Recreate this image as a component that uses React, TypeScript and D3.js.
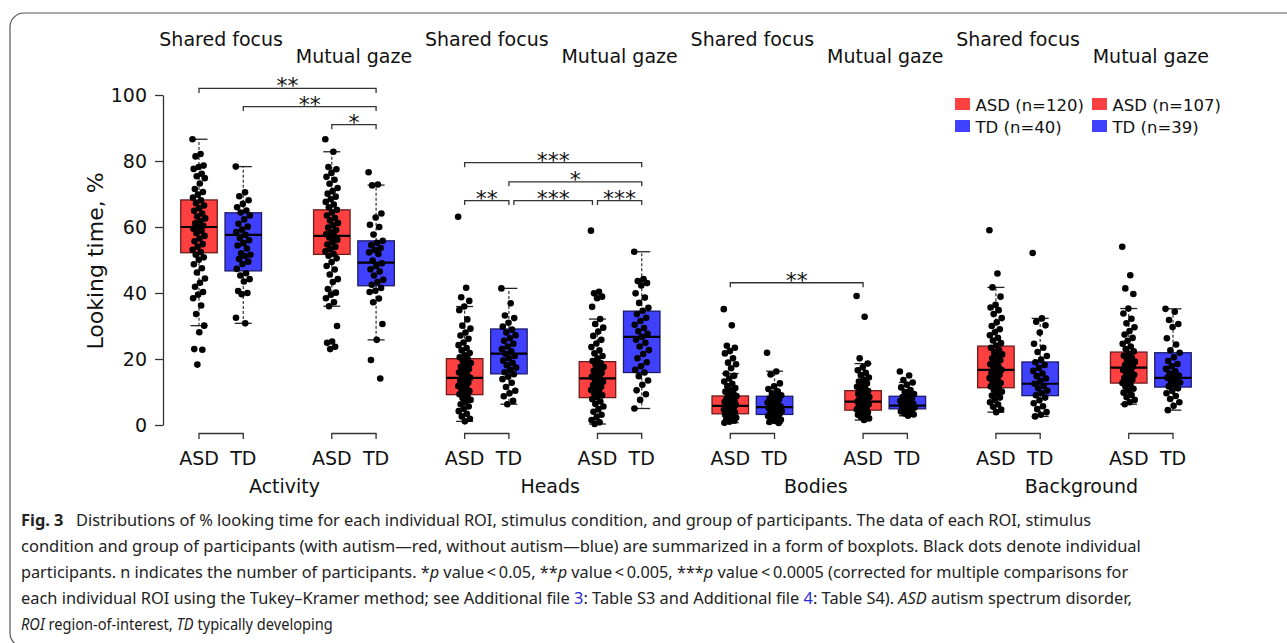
import { useEffect, useRef } from 'react';
import * as d3 from 'd3';

const rois = ['Activity', 'Heads', 'Bodies', 'Background'];
const conditions = ['Shared focus', 'Mutual gaze'];
const groups = ['ASD', 'TD'];
const yTicks = [0, 20, 40, 60, 80, 100];
const legendLabels = [
  ['ASD (n=120)', 'TD (n=40)'],
  ['ASD (n=107)', 'TD (n=39)'],
];

// box order: roi > condition > group
// [whisker low, q1, median, q3, whisker high]
const boxStats = [
  [30.1, 52.2, 60.0, 68.2, 86.6],
  [30.8, 46.7, 57.6, 64.3, 78.3],
  [36.0, 51.7, 57.3, 65.2, 82.8],
  [25.8, 42.2, 49.2, 55.8, 72.7],
  [1.1, 9.2, 14.3, 20.1, 35.9],
  [6.3, 15.5, 21.6, 29.1, 41.4],
  [0.3, 8.3, 14.1, 19.2, 32.1],
  [5.0, 15.9, 26.7, 34.5, 52.5],
  [0.7, 3.4, 5.8, 8.8, 15.6],
  [0.6, 3.2, 5.4, 8.7, 16.3],
  [1.5, 4.5, 7.1, 10.4, 18.6],
  [2.8, 4.9, 5.9, 8.7, 12.9],
  [3.9, 11.3, 16.7, 23.9, 41.7],
  [2.6, 8.9, 12.5, 19.1, 32.3],
  [6.3, 12.7, 17.4, 22.1, 35.3],
  [4.5, 11.5, 14.3, 21.9, 35.2],
];

// individual participants (overlapping dots thinned)
const dots = [
  [86.6, 82.1, 81.4, 78.6, 78.2, 77.6, 76.1, 75.4, 74.8, 73.2, 71.5, 70.6, 69.8, 68.9, 68.1, 67.2, 66.5, 65.7, 64.9, 64.1, 63.2, 62.6, 61.8, 61.1, 60.4, 60.0, 59.5, 58.8, 58.1, 57.3, 56.5, 55.7, 54.8, 54.0, 53.1, 52.4, 51.6, 50.8, 50.1, 48.7, 47.5, 46.2, 44.4, 43.1, 41.9, 40.3, 39.5, 38.4, 36.2, 33.6, 30.1, 28.1, 23.0, 22.8, 18.3],
  [78.3, 70.5, 69.3, 68.1, 67.0, 66.0, 65.0, 64.4, 63.5, 62.3, 61.0, 60.1, 59.2, 58.5, 57.6, 56.7, 56.0, 55.1, 54.4, 53.5, 52.0, 51.6, 51.2, 50.3, 49.5, 48.8, 47.3, 46.0, 45.3, 44.2, 43.5, 40.6, 40.0, 39.6, 32.5, 30.8],
  [86.6, 82.8, 78.2, 77.5, 76.4, 75.2, 74.3, 73.1, 71.8, 70.9, 70.1, 69.2, 68.4, 67.6, 66.8, 66.0, 65.2, 64.4, 63.5, 62.7, 62.0, 61.2, 60.5, 59.8, 59.1, 58.4, 57.8, 57.3, 56.8, 56.1, 55.4, 54.7, 54.0, 53.3, 52.6, 51.9, 51.3, 50.5, 49.4, 48.2, 47.1, 45.6, 44.2, 43.3, 41.2, 40.1, 39.5, 38.4, 37.2, 36.0, 30.0, 25.3, 24.9, 23.7, 23.0],
  [76.6, 72.9, 72.6, 64.1, 62.9, 60.7, 60.0, 57.7, 55.8, 55.2, 54.5, 53.6, 53.0, 52.3, 51.8, 49.8, 49.0, 48.2, 47.2, 46.5, 45.3, 44.0, 43.3, 42.5, 41.5, 40.7, 40.3, 38.3, 37.2, 30.6, 25.8, 19.7, 14.1],
  [63.1, 41.6, 38.7, 37.6, 35.9, 34.8, 32.0, 30.1, 29.2, 28.0, 27.1, 26.1, 25.0, 24.2, 23.3, 22.6, 21.8, 21.1, 20.5, 20.0, 19.4, 18.8, 18.2, 17.6, 17.0, 16.4, 15.9, 15.3, 14.8, 14.3, 13.8, 13.3, 12.8, 12.3, 11.8, 11.3, 10.8, 10.3, 9.8, 9.3, 8.8, 8.2, 7.6, 7.0, 6.3, 5.6, 4.9, 4.2, 3.4, 2.6, 1.9, 1.1],
  [41.4, 36.9, 33.2, 32.4, 31.0, 29.8, 28.9, 28.0, 27.2, 26.3, 25.5, 24.6, 23.8, 23.0, 22.3, 21.6, 20.9, 20.2, 19.5, 18.8, 18.1, 17.4, 16.7, 16.0, 15.4, 14.6, 13.9, 12.8, 11.5, 10.4, 9.6, 8.7, 7.3, 6.3],
  [58.9, 40.4, 39.9, 38.9, 38.4, 35.8, 32.1, 30.6, 29.5, 28.3, 27.0, 25.8, 24.7, 23.6, 22.6, 21.7, 20.9, 20.1, 19.4, 18.8, 18.2, 17.6, 17.0, 16.4, 15.8, 15.2, 14.6, 14.1, 13.6, 13.1, 12.6, 12.1, 11.6, 11.1, 10.6, 10.1, 9.6, 9.0, 8.4, 7.8, 7.1, 6.4, 5.6, 4.8, 4.0, 3.1, 2.3, 1.5, 0.8, 0.3],
  [52.5, 44.2, 43.6, 43.0, 42.3, 39.9, 38.6, 37.0, 35.5, 34.6, 33.6, 32.5, 31.5, 30.4, 29.4, 28.4, 27.6, 26.7, 25.8, 24.9, 23.8, 22.7, 21.5, 20.2, 19.0, 17.8, 16.7, 15.9, 14.8, 13.5, 12.2, 10.5, 9.3, 7.6, 5.0],
  [35.1, 30.2, 24.0, 23.4, 22.4, 21.7, 20.2, 18.9, 18.4, 17.2, 15.6, 14.9, 14.1, 13.2, 12.5, 11.8, 11.2, 10.6, 10.1, 9.6, 9.2, 8.8, 8.4, 8.0, 7.6, 7.3, 7.0, 6.7, 6.4, 6.1, 5.8, 5.5, 5.2, 4.9, 4.6, 4.3, 4.0, 3.7, 3.4, 3.1, 2.8, 2.5, 2.2, 1.9, 1.6, 1.3, 1.0, 0.7],
  [21.9, 16.2, 15.3, 12.6, 11.7, 10.9, 10.2, 9.6, 9.0, 8.6, 8.1, 7.7, 7.2, 6.8, 6.4, 6.0, 5.7, 5.4, 5.1, 4.8, 4.5, 4.2, 3.9, 3.6, 3.3, 3.0, 2.7, 2.3, 2.0, 1.6, 1.2, 0.9, 0.6],
  [39.1, 32.8, 20.2, 18.6, 17.5, 16.6, 15.8, 15.1, 14.4, 13.8, 13.2, 12.6, 12.1, 11.6, 11.1, 10.7, 10.3, 9.9, 9.5, 9.1, 8.8, 8.5, 8.2, 7.9, 7.6, 7.3, 7.1, 6.8, 6.5, 6.2, 5.9, 5.6, 5.3, 5.0, 4.7, 4.4, 4.1, 3.8, 3.5, 3.1, 2.8, 2.4, 2.0, 1.5],
  [16.2, 15.0, 13.6, 12.9, 12.2, 11.4, 10.6, 10.0, 9.4, 8.9, 8.5, 8.1, 7.7, 7.3, 7.0, 6.7, 6.4, 6.1, 5.9, 5.7, 5.5, 5.3, 5.1, 4.9, 4.7, 4.4, 4.1, 3.8, 3.5, 3.2, 2.8],
  [59.0, 45.9, 41.7, 38.9, 36.4, 35.6, 34.8, 33.6, 32.4, 31.1, 30.0, 29.0, 28.1, 27.2, 26.4, 25.6, 24.8, 24.1, 23.4, 22.7, 22.0, 21.4, 20.8, 20.2, 19.6, 19.0, 18.4, 17.8, 17.2, 16.7, 16.2, 15.7, 15.2, 14.7, 14.2, 13.7, 13.2, 12.7, 12.2, 11.7, 11.2, 10.7, 10.1, 9.5, 8.9, 8.3, 7.6, 6.9, 6.2, 5.5, 4.7, 3.9],
  [52.1, 32.3, 31.3, 30.2, 28.0, 24.6, 23.4, 22.1, 20.9, 19.8, 19.0, 18.2, 17.3, 16.4, 15.6, 14.8, 14.1, 13.4, 12.5, 11.8, 11.1, 10.4, 9.7, 9.0, 8.3, 7.5, 6.6, 5.7, 4.8, 3.9, 3.1, 2.6],
  [54.0, 45.4, 41.4, 39.7, 35.3, 33.8, 32.2, 30.8, 29.6, 28.5, 27.4, 26.4, 25.5, 24.6, 23.8, 23.0, 22.3, 21.6, 21.0, 20.4, 19.8, 19.2, 18.7, 18.2, 17.7, 17.2, 16.7, 16.2, 15.7, 15.2, 14.7, 14.2, 13.7, 13.2, 12.7, 12.2, 11.6, 11.0, 10.4, 9.8, 9.1, 8.4, 7.6, 6.9, 6.3],
  [35.2, 34.3, 31.8, 30.6, 29.7, 26.3, 24.4, 22.6, 21.9, 20.5, 19.4, 18.5, 17.8, 17.0, 16.3, 15.6, 15.0, 14.6, 14.3, 13.9, 13.4, 12.9, 12.3, 11.7, 11.1, 10.4, 9.6, 8.8, 7.9, 6.9, 5.8, 4.5],
];

// significance brackets between boxes, "at" in % looking time
const brackets = [
  { a: 0, b: 3, at: 102, label: '**' },
  { a: 1, b: 3, at: 96.5, label: '**' },
  { a: 2, b: 3, at: 91, label: '*' },
  { a: 4, b: 7, at: 79.5, label: '***' },
  { a: 5, b: 7, at: 73.7, label: '*' },
  { a: 4, b: 5, at: 68, label: '**' },
  { a: 6, b: 7, at: 68, label: '***' },
  { a: 5, b: 6, at: 68, label: '***' },
  { a: 8, b: 10, at: 43.1, label: '**' },
];

type Seg = { t: string; i?: boolean; b?: boolean; c?: string };
const captionLines: { segs: Seg[]; end: number }[] = [
  { end: 1092, segs: [{ t: 'Fig. 3', b: true }, { t: '\u2002 Distributions of % looking time for each individual ROI, stimulus condition, and group of participants. The data of each ROI, stimulus' }] },
  { end: 1141, segs: [{ t: 'condition and group of participants (with autism\u2014red, without autism\u2014blue) are summarized in a form of boxplots. Black dots denote individual' }] },
  { end: 1129, segs: [{ t: 'participants. n indicates the number of participants. *' }, { t: 'p', i: true }, { t: ' value\u2009<\u20090.05, **' }, { t: 'p', i: true }, { t: ' value\u2009<\u20090.005, ***' }, { t: 'p', i: true }, { t: ' value\u2009<\u20090.0005 (corrected for multiple comparisons for' }] },
  { end: 1133, segs: [{ t: 'each individual ROI using the Tukey\u2013Kramer method; see Additional file ' }, { t: '3', c: '#2b2bd0' }, { t: ': Table S3 and Additional file ' }, { t: '4', c: '#2b2bd0' }, { t: ': Table S4). ' }, { t: 'ASD', i: true }, { t: ' autism spectrum disorder,' }] },
  { end: 333, segs: [{ t: 'ROI', i: true }, { t: ' region-of-interest, ' }, { t: 'TD', i: true }, { t: ' typically developing' }] },
];

const groupColors = ['#ff4040', '#4040ff'];
const font = '"DejaVu Sans", Verdana, sans-serif';

function slotOf(i: number) {
  const r = Math.floor(i / 4);
  const c = Math.floor((i % 4) / 2);
  const g = i % 2;
  return r * 6 + c * 3 + g + 1;
}

export default function App() {
  const svgRef = useRef<SVGSVGElement>(null);

  useEffect(() => {
    if (!svgRef.current) return;
    const svg = d3.select(svgRef.current);
    svg.selectAll('*').remove();

    const x = d3.scaleLinear().domain([1, 23]).range([199, 1173]);
    const y = d3.scaleLinear().domain([0, 100]).range([425, 95]);
    const boxW = 36.5;

    // frame
    svg.append('rect')
      .attr('x', 10).attr('y', 13)
      .attr('width', 1300).attr('height', 634)
      .attr('rx', 14)
      .attr('fill', 'none')
      .attr('stroke', '#555')
      .attr('stroke-width', 1.2);

    // y axis
    const yAxis = svg.append('g')
      .attr('transform', 'translate(163,0)')
      .call(d3.axisLeft(y).tickValues(yTicks).tickSize(8).tickPadding(8).tickSizeOuter(0));
    yAxis.select('.domain').attr('stroke', '#333').attr('stroke-width', 1.3);
    yAxis.selectAll('.tick line').attr('stroke', '#333').attr('stroke-width', 1.3);
    yAxis.selectAll('.tick text')
      .style('font-family', font)
      .style('font-size', '19px')
      .attr('fill', '#111');

    svg.append('text')
      .attr('transform', `translate(103,${y(50) + 1}) rotate(-90)`)
      .attr('text-anchor', 'middle')
      .style('font-family', font)
      .style('font-size', '22px')
      .attr('fill', '#111')
      .text('Looking time, %');

    // condition labels, group brackets and group labels
    rois.forEach((roi, r) => {
      conditions.forEach((cond, c) => {
        const i0 = r * 4 + c * 2;
        const xa = x(slotOf(i0));
        const xb = x(slotOf(i0 + 1));
        svg.append('text')
          .attr('x', (xa + xb) / 2)
          .attr('y', c === 0 ? 46 : 63)
          .attr('text-anchor', 'middle')
          .style('font-family', font)
          .style('font-size', '19px')
          .attr('fill', '#111')
          .text(cond);

        svg.append('path')
          .attr('d', `M${xa},439V433.5H${xb}V439`)
          .attr('fill', 'none')
          .attr('stroke', '#333')
          .attr('stroke-width', 1.3);

        groups.forEach((g, gi) => {
          svg.append('text')
            .attr('x', gi === 0 ? xa : xb)
            .attr('y', 465)
            .attr('text-anchor', 'middle')
            .style('font-family', font)
            .style('font-size', '19px')
            .attr('fill', '#111')
            .text(g);
        });
      });

      svg.append('text')
        .attr('x', (x(slotOf(r * 4)) + x(slotOf(r * 4 + 3))) / 2 - 3)
        .attr('y', 493)
        .attr('text-anchor', 'middle')
        .style('font-family', font)
        .style('font-size', '19px')
        .attr('fill', '#111')
        .text(roi);
    });

    // boxes
    boxStats.forEach(([lo, q1, med, q3, hi], i) => {
      const cx = x(slotOf(i));
      const fill = groupColors[i % 2];
      const spread = i % 2 === 0 ? 13 : 15;
      const g = svg.append('g');

      g.append('line')
        .attr('x1', cx).attr('x2', cx)
        .attr('y1', y(q3)).attr('y2', y(hi))
        .attr('stroke', '#333').attr('stroke-width', 1.2)
        .attr('stroke-dasharray', '3,2');
      g.append('line')
        .attr('x1', cx).attr('x2', cx)
        .attr('y1', y(q1)).attr('y2', y(lo))
        .attr('stroke', '#333').attr('stroke-width', 1.2)
        .attr('stroke-dasharray', '3,2');
      [lo, hi].forEach(v => {
        g.append('line')
          .attr('x1', cx - 8.5).attr('x2', cx + 8.5)
          .attr('y1', y(v)).attr('y2', y(v))
          .attr('stroke', '#222').attr('stroke-width', 1.3);
      });

      g.append('rect')
        .attr('x', cx - boxW / 2)
        .attr('y', y(q3))
        .attr('width', boxW)
        .attr('height', y(q1) - y(q3))
        .attr('fill', fill)
        .attr('stroke', d3.color(fill)!.darker(2.4).formatHex())
        .attr('stroke-width', 1.3);

      // participants, spread sideways so they do not pile up
      g.selectAll('circle')
        .data(dots[i])
        .join('circle')
        .attr('cx', (_, j) => cx + (((j * 0.618034) % 1) - 0.5) * spread)
        .attr('cy', d => y(d))
        .attr('r', 3.3)
        .attr('fill', '#000');

      g.append('line')
        .attr('x1', cx - boxW / 2).attr('x2', cx + boxW / 2)
        .attr('y1', y(med)).attr('y2', y(med))
        .attr('stroke', '#000').attr('stroke-width', 2.2);
    });

    // significance brackets
    brackets.forEach((b, k) => {
      const shared = (s: number) =>
        brackets.slice(0, k).some(o => o.at === b.at && (o.a === s || o.b === s));
      const x1 = x(slotOf(b.a)) + (shared(b.a) ? 5 : 0);
      const x2 = x(slotOf(b.b)) - (shared(b.b) ? 5 : 0);
      const yy = y(b.at);
      svg.append('path')
        .attr('d', `M${x1},${yy + 4.5}V${yy}H${x2}V${yy + 4.5}`)
        .attr('fill', 'none')
        .attr('stroke', '#333')
        .attr('stroke-width', 1.3);
      svg.append('text')
        .attr('x', (x1 + x2) / 2)
        .attr('y', yy + 5)
        .attr('text-anchor', 'middle')
        .style('font-family', font)
        .style('font-size', '22px')
        .attr('fill', '#111')
        .text(b.label);
    });

    // legend
    legendLabels.forEach((col, ci) => {
      col.forEach((label, gi) => {
        const lx = ci === 0 ? 955 : 1092;
        const ly = gi === 0 ? 98 : 120;
        svg.append('rect')
          .attr('x', lx).attr('y', ly)
          .attr('width', 15).attr('height', 12)
          .attr('fill', groupColors[gi]);
        svg.append('text')
          .attr('x', lx + 20.5)
          .attr('y', ly + 12.5)
          .style('font-family', font)
          .style('font-size', '16.5px')
          .attr('fill', '#111')
          .text(label);
      });
    });

    // caption: natural text squeezed horizontally to the reference line widths
    captionLines.forEach((line, li) => {
      const t = svg.append('text')
        .attr('x', 0)
        .attr('y', 0)
        .style('font-family', '"Noto Sans", "Open Sans", sans-serif')
        .style('font-size', '16px')
        .attr('fill', '#222');
      line.segs.forEach(s => {
        t.append('tspan')
          .attr('font-style', s.i ? 'italic' : null)
          .attr('font-weight', s.b ? 'bold' : null)
          .attr('fill', s.c ?? null)
          .text(s.t);
      });
      const natural = (t.node() as SVGTextElement).getComputedTextLength() || 1;
      const k = (line.end - 21) / natural;
      t.attr('transform', `translate(21,${526 + li * 26}) scale(${k},1)`);
    });
  }, []);

  return (
    <svg
      ref={svgRef}
      width={1287}
      height={643}
      style={{ position: 'absolute', left: 0, top: 0, background: '#fff' }}
    />
  );
}
